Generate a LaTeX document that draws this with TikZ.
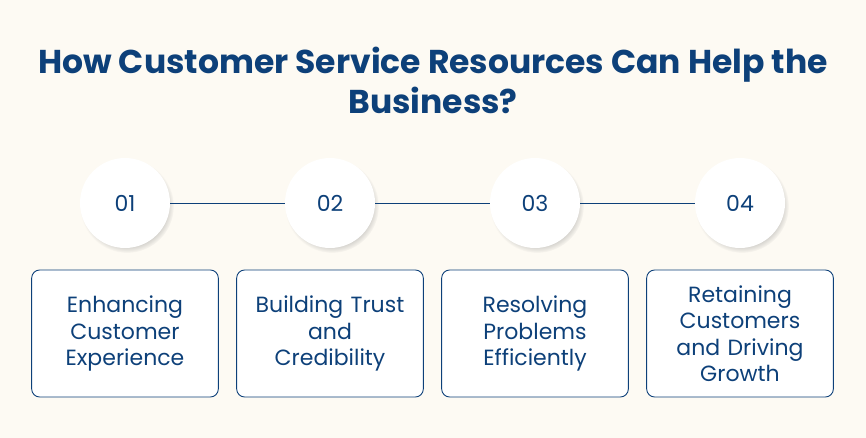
\documentclass[tikz,border=0pt]{standalone}
\usepackage{fontspec}
\setmainfont{Poppins}
\usetikzlibrary{shadows}
\definecolor{navy}{HTML}{0D4079}
\definecolor{cream}{HTML}{FDFAF3}

\begin{document}
\begin{tikzpicture}[node distance=205pt,
                    num node/.style={circle,fill=white,minimum size=90pt,inner sep=0pt,
                      text=navy,font=\fontsize{22}{24}\selectfont,
                      circular drop shadow={shadow xshift=2pt,shadow yshift=-3pt,shadow scale=1.04,opacity=0.35}},
                    text box/.style={draw=navy,line width=0.9pt,rounded corners=8pt,fill=white,
                      minimum width=185pt,minimum height=127pt,text width=180pt,align=center,
                      text=navy,font=\fontsize{22}{26.5}\selectfont},
                    link/.style={navy,line width=0.8pt}]
  \fill[cream] (0,0) rectangle (866pt,-438pt);
  \useasboundingbox (0,0) rectangle (866pt,-438pt);
  \node[text=navy,align=center,font=\bfseries\fontsize{33}{40}\selectfont] (title) at (433pt,-80pt)
    {How Customer Service Resources Can Help the\\Business?};
  \node[num node] (1) at (125pt,-203pt) {01};
  \node[num node] (2) [right of=1] {02};
  \node[num node] (3) [right of=2] {03};
  \node[num node] (4) [right of=3] {04};
  \node[text box] (b1) [below of=1,node distance=130.5pt] {Enhancing\\Customer\\Experience};
  \node[text box] (b2) [below of=2,node distance=130.5pt] {Building Trust\\and\\Credibility};
  \node[text box] (b3) [below of=3,node distance=130.5pt] {Resolving\\Problems\\Efficiently};
  \node[text box] (b4) [below of=4,node distance=130.5pt] {Retaining\\Customers\\and Driving\\Growth};
  \path[link]
    (1) edge (2)
    (2) edge (3)
    (3) edge (4);
\end{tikzpicture}
\end{document}
